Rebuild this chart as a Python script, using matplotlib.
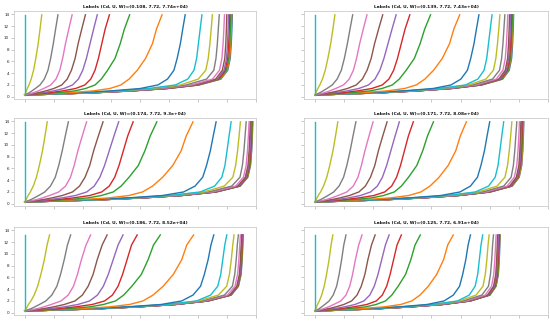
import matplotlib
matplotlib.use('Agg')
import matplotlib.pyplot as plt

# panel titles (row-major: top-left, top-right, middle-left, ...)
titles = [
    "Labels (Cd, U, W)=(0.108, 7.72, 7.74e+04)",
    "Labels (Cd, U, W)=(0.139, 7.72, 7.43e+04)",
    "Labels (Cd, U, W)=(0.174, 7.72, 9.3e+04)",
    "Labels (Cd, U, W)=(0.171, 7.72, 8.08e+04)",
    "Labels (Cd, U, W)=(0.186, 7.72, 8.52e+04)",
    "Labels (Cd, U, W)=(0.125, 7.72, 6.91e+04)",
]

# y value at the top of every curve in each panel
tops = [13.9, 13.9, 13.9, 13.9, 13.2, 13.2]

# y levels where curve positions were read (top level added per panel)
levels = [0.3, 0.5, 0.7, 1.0, 1.4, 2.0, 3.0, 4.5, 6.5, 9.0, 11.5]

# x where each curve ends at the top, listed left to right
ends_tl = [0, 0.59, 1.15, 1.64, 2.10, 2.51, 2.93, 3.63, 4.75, 5.55, 6.13, 6.49, 6.73, 6.91, 6.99, 7.05, 7.09, 7.13, 7.16, 7.18]
ends_tr = [0, 0.69, 1.30, 1.79, 2.33, 2.79, 3.26, 3.97, 4.97, 5.63, 6.08, 6.35, 6.52, 6.62, 6.68, 6.72, 6.75, 6.78, 6.80, 6.82]
ends_ml = [0, 0.78, 1.51, 2.14, 2.71, 3.25, 3.75, 4.57, 5.82, 6.62, 7.14, 7.46, 7.66, 7.76, 7.80, 7.83, 7.85, 7.87, 7.88, 7.89]
ends_mr = [0, 0.79, 1.41, 2.00, 2.48, 2.90, 3.38, 4.07, 5.20, 6.00, 6.48, 6.76, 6.93, 7.02, 7.07, 7.10, 7.12, 7.14, 7.16, 7.17]
ends_bl = [0, 0.86, 1.59, 2.28, 2.85, 3.40, 3.89, 4.69, 5.84, 6.54, 6.99, 7.24, 7.39, 7.46, 7.50, 7.52, 7.53, 7.54, 7.55, 7.56]
ends_br = [0, 0.62, 1.07, 1.62, 2.07, 2.55, 2.97, 3.62, 4.75, 5.34, 5.76, 5.98, 6.13, 6.22, 6.27, 6.30, 6.32, 6.34, 6.35, 6.36]
all_ends = [ends_tl, ends_tr, ends_ml, ends_mr, ends_bl, ends_br]

# curve shapes: x at each level as a fraction of the end x
shapes = [
    [0, 0, 0, 0, 0, 0, 0, 0, 0, 0, 0, 0],
    [0, .03, .06, .10, .15, .25, .38, .52, .65, .79, .90, 1],
    [0, .07, .14, .22, .32, .46, .59, .70, .78, .86, .93, 1],
    [0, .10, .19, .29, .40, .55, .66, .74, .80, .86, .93, 1],
    [0, .12, .23, .35, .48, .61, .70, .77, .83, .88, .94, 1],
    [0, .13, .26, .40, .54, .66, .74, .80, .85, .90, .95, 1],
    [0, .15, .30, .45, .60, .71, .78, .83, .87, .91, .95, 1],
    [0, .16, .32, .48, .58, .67, .73, .79, .86, .91, .95, 1],
    [0, .17, .33, .50, .62, .70, .76, .82, .88, .93, .96, 1],
    [0, .18, .35, .54, .72, .83, .89, .93, .95, .97, .985, 1],
    [0, .18, .34, .52, .70, .85, .92, .955, .97, .98, .99, 1],
    [0, .18, .34, .51, .68, .83, .925, .965, .978, .987, .994, 1],
    [0, .18, .34, .51, .68, .83, .935, .972, .983, .99, .995, 1],
    [0, .185, .345, .515, .685, .835, .94, .975, .987, .993, .997, 1],
    [0, .19, .35, .52, .69, .84, .945, .978, .99, .995, .998, 1],
    [0, .19, .35, .52, .69, .84, .945, .978, .99, .995, .998, 1],
    [0, .19, .35, .52, .69, .84, .945, .978, .99, .995, .998, 1],
    [0, .19, .35, .52, .69, .84, .945, .978, .99, .995, .998, 1],
    [0, .19, .35, .52, .69, .84, .945, .978, .99, .995, .998, 1],
    [0, .19, .35, .52, .69, .84, .945, .978, .99, .995, .998, 1],
]

fig = plt.figure(figsize=(5.5, 3.28), dpi=100)

# axes boxes in pixels: (left, width) per column, top per row
col_x = [(14, 242), (304, 244)]
row_y = [11, 118, 227]
H = 88

for p in range(6):
    r, c = divmod(p, 2)
    x0, w = col_x[c]
    ax = fig.add_axes([x0 / 550, 1 - (row_y[r] + H) / 328, w / 550, H / 328])
    ys = levels + [tops[p]]
    ends = all_ends[p]
    # drawn right to left so the colour cycle matches
    for k in range(len(ends) - 1, -1, -1):
        xs = [f * ends[k] for f in shapes[k]]
        ax.plot(xs, ys, lw=1.0)
    ax.set_xlim(-0.37, 8.0)
    ax.set_ylim(-0.38, 14.55)
    ax.set_xticks(range(0, 9))
    ax.set_yticks(range(0, 15, 2))
    ax.tick_params(length=2, width=0.5, color='#b0b0b0', labelsize=3, pad=1.5,
                   labelcolor='#222222', labelbottom=False, labelleft=(c == 0))
    for s in ax.spines.values():
        s.set_color('#cccccc')
        s.set_linewidth(0.6)
    ax.set_title(titles[p], fontsize=3.2, fontweight='bold', pad=2.5, color='#111111')

fig.savefig('out.png', dpi=100)
